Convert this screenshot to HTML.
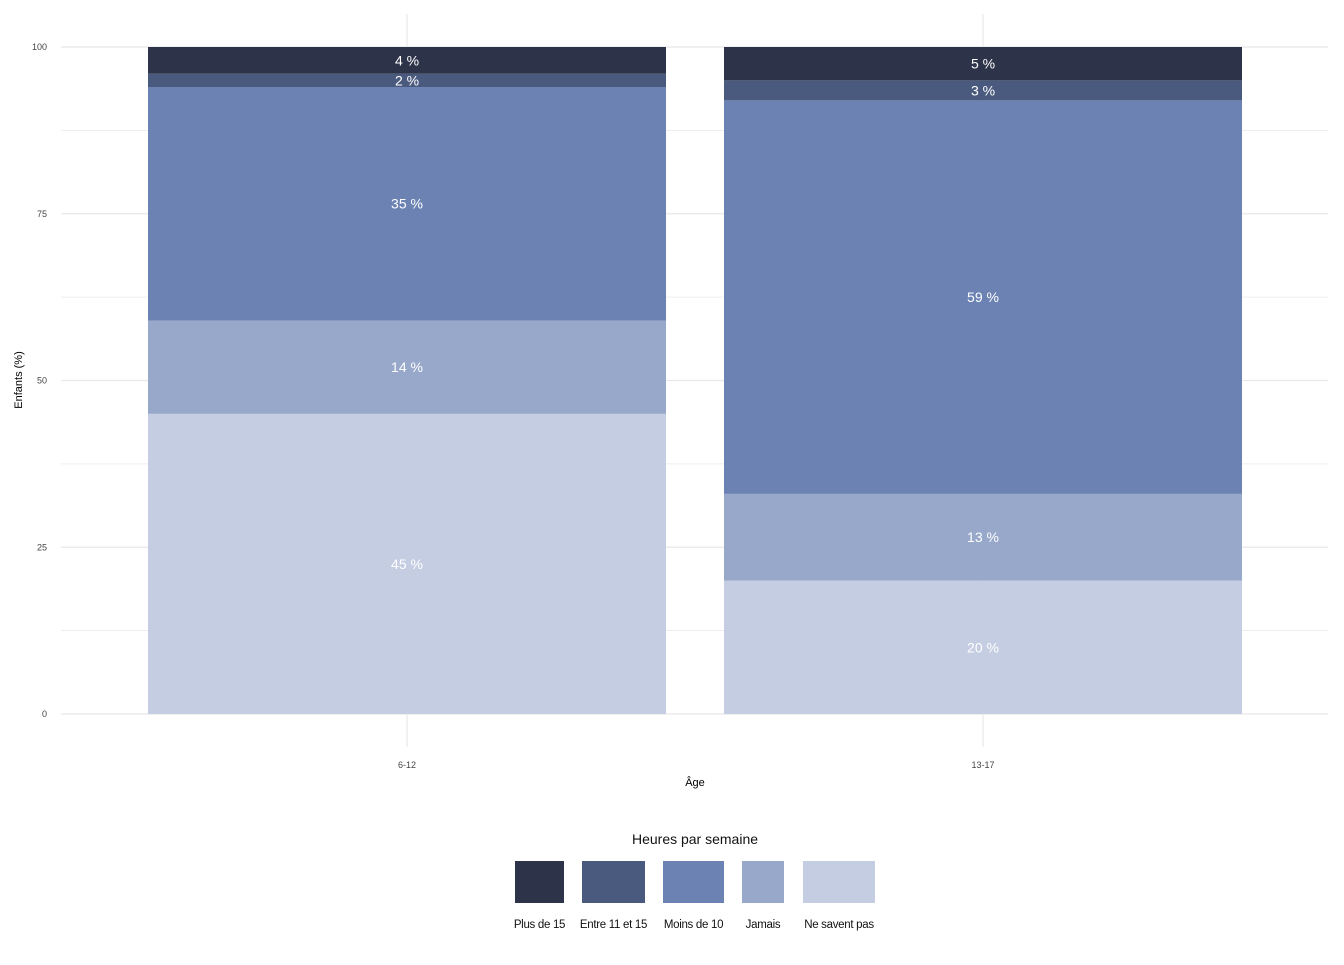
<!DOCTYPE html>
<html><head><meta charset="utf-8"><style>
body{margin:0;background:#fff;font-family:"Liberation Sans",sans-serif}
svg text{font-family:"Liberation Sans",sans-serif}
</style></head><body>
<svg id="chart" width="1344" height="960" xmlns="http://www.w3.org/2000/svg">
<g id="grid"></g>
<g id="bars"></g>
<g id="labels"></g>
<g id="axes"></g>
<text x="22" y="380" transform="rotate(-90 22 380)" text-anchor="middle" font-size="11" fill="#000">Enfants (%)</text>
<text x="695" y="786" text-anchor="middle" font-size="11" fill="#000">Âge</text>
<text x="695" y="844" text-anchor="middle" font-size="14" fill="#111">Heures par semaine</text>
<g id="legend"></g>
</svg>
<script>
const categories = ["6-12", "13-17"];
const seriesNames = ["Ne savent pas", "Jamais", "Moins de 10", "Entre 11 et 15", "Plus de 15"];
const nsp = [45, 20];
const jamais = [14, 13];
const moins10 = [35, 59];
const entre = [2, 3];
const plus15 = [4, 5];
const yTicks = [0, 25, 50, 75, 100];
const colors = ["#c5cde2", "#98a8ca", "#6b82b3", "#4a5a7e", "#2d3349"];
const series = [nsp, jamais, moins10, entre, plus15];
const NS = "http://www.w3.org/2000/svg";
const y = v => 714 - v * 6.67;
const xCenter = i => 407 + i * 576;
const barW = 518;
function mk(tag, attrs, parent){const e=document.createElementNS(NS,tag);for(const k in attrs)e.setAttribute(k,attrs[k]);parent.appendChild(e);return e;}
const grid=document.getElementById('grid');
for(let v=0;v<=100;v+=12.5){
  const l=mk('line',{x1:61,x2:1328,y1:y(v),y2:y(v),stroke:'#e8e8e8','stroke-width':v%25===0?1.2:0.8},grid);
  
  
}
categories.forEach((c,i)=>{
  const l=mk('line',{x1:xCenter(i),x2:xCenter(i),y1:14,y2:747,stroke:'#e8e8e8','stroke-width':1.2},grid);
  
  
});
const axes=document.getElementById('axes');
yTicks.forEach(t=>{
  const e=mk('text',{x:47,y:y(t)+3,'text-anchor':'end','font-size':9,fill:'#444'},axes);
  e.textContent=t;
  
  
});
categories.forEach((c,i)=>{
  const e=mk('text',{x:xCenter(i),y:768,'text-anchor':'middle','font-size':9,fill:'#444'},axes);
  e.textContent=c;
  
  
});
const bars=document.getElementById('bars'), labels=document.getElementById('labels');
categories.forEach((c,i)=>{
  let cum=0;
  series.forEach((s,k)=>{
    const v=s[i];
    const r=mk('rect',{x:xCenter(i)-barW/2,y:y(cum+v),width:barW,height:y(cum)-y(cum+v),fill:colors[k]},bars);
    
    
    const t=mk('text',{x:xCenter(i),y:y(cum+v/2)+5,'text-anchor':'middle','font-size':14,fill:'#fff'},labels);
    t.textContent=v+' %';
    
    
    cum+=v;
  });
});
const legend=document.getElementById('legend');
const legItems=[["Plus de 15",515,49,4],["Entre 11 et 15",582,63,3],["Moins de 10",663,61,2],["Jamais",742,42,1],["Ne savent pas",803,72,0]];
legItems.forEach(([name,x,w,ci])=>{
  const r=mk('rect',{x:x,y:861,width:w,height:42,fill:colors[ci]},legend);
  
  
  const t=mk('text',{x:x+w/2,y:928,'text-anchor':'middle','font-size':11.5,fill:'#111','letter-spacing':'-0.3'},legend);
  t.textContent=name;
  
  
});
</script>
</body></html>
